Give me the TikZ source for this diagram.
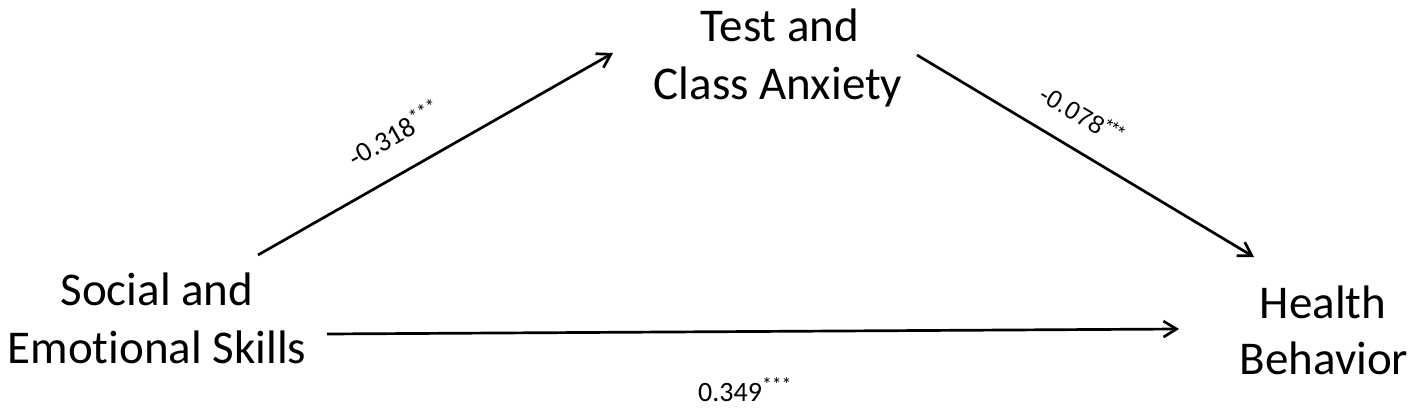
\documentclass[tikz,border=0pt]{standalone}
\usepackage{fontspec}
\setmainfont[RawFeature={-liga;-dlig}]{Carlito}
\newfontfamily\arialfont{Liberation Sans}
\usetikzlibrary{arrows.meta}
\tikzset{
  concept/.style={anchor=base, inner sep=0pt, font=\fontsize{47}{56}\selectfont},
  coef/.style={inner sep=0pt, font=\fontsize{28}{32}\selectfont},
  path/.style={line width=2.7pt, -{Straight Barb[length=13pt,width=16pt,line width=2.7pt]}},
}
\begin{document}
\begin{tikzpicture}[x=1pt,y=-1pt]
\useasboundingbox (0,0) rectangle (1417,409);
% concept labels
\node[concept] (tcaA) at (780,42) {Test and};
\node[concept] (tcaB) at (778,100) {Class Anxiety};
\node[concept] (sesA) at (157,305) {Social and};
\node[concept] (sesB) at (157,363) {Emotional Skills};
\node[concept] (hbA) at (1323,318) {Health};
\node[concept] (hbB) at (1324,374) {Behavior};
% connector end points
\coordinate (s1) at (258,255);
\coordinate (t1) at (613,53);
\coordinate (s2) at (917,55);
\coordinate (t2) at (1254,257);
\coordinate (s3) at (327,334);
\coordinate (t3) at (1179,329);
\draw[path] (s1) -- (t1);
\draw[path] (s2) -- (t2);
\draw[path] (s3) -- (t3);
% coefficients
\node[coef, rotate=29.7] (c1) at (394,133) {-0.318\textsuperscript{***}};
\node[coef, rotate=-31, font=\arialfont\fontsize{25}{29}\selectfont] (c2) at (1082,114) {-0.078\textsuperscript{***}};
\node[coef, anchor=base west, font=\fontsize{28}{32}\selectfont] (c3) at (698,401) {0.349\textsuperscript{***}};
\end{tikzpicture}
\end{document}
